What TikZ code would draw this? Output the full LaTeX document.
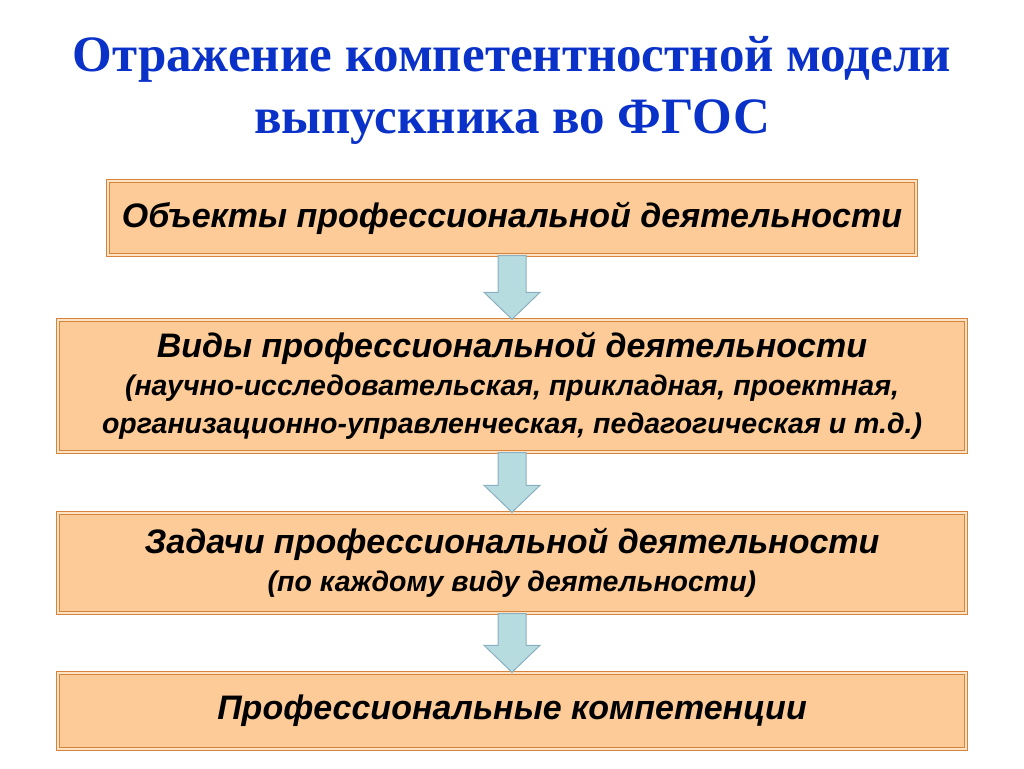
\documentclass[tikz,border=0pt]{standalone}
\usepackage{fontspec}
\setmainfont{Liberation Serif}
\setsansfont{Liberation Sans}
\usepackage{tikz}
\usetikzlibrary{calc}

\definecolor{titleblue}{HTML}{0A32C8}
\definecolor{boxfill}{HTML}{FCCB98}
\definecolor{boxline}{HTML}{D6833E}
\definecolor{boxgap}{HTML}{FDE3C4}
\definecolor{arrowfill}{HTML}{B7DCE0}
\definecolor{arrowline}{HTML}{8AAFC0}

\newcommand{\flowarrow}[2]{%
	\draw[arrow body] ($(#1.south)+(-14,0)$) -- ($(#1.south)+(14,0)$)
		-- ($(#2.north)+(14,-27)$) -- ($(#2.north)+(28,-27)$) -- (#2.north)
		-- ($(#2.north)+(-28,-27)$) -- ($(#2.north)+(-14,-27)$) -- cycle;}
\newcommand{\subline}{\fontsize{28.5}{34}\selectfont}

\begin{document}
\begin{tikzpicture}[x=1pt,y=-1pt]
	 \tikzstyle{box}=[draw=boxline,double=boxgap,line width=1.4pt,double distance=1.1pt,fill=boxfill,
		inner sep=0pt,align=center,font=\sffamily\bfseries\itshape\fontsize{34}{38}\selectfont]
	 \tikzstyle{arrow body}=[fill=arrowfill,draw=arrowline,line width=1pt,line join=miter]

	 \useasboundingbox (0,0) rectangle (1024,768);

	 \node[text=titleblue,align=center,font=\bfseries\fontsize{51}{62}\selectfont] (title) at (512,90)
		{Отражение компетентностной модели\\выпускника во ФГОС};

	 \node[box,minimum width=808,minimum height=74] (objects) at (512,218)
		{Объекты профессиональной деятельности};
	 \node[box,minimum width=908,minimum height=132] (kinds) at (512,386)
		{Виды профессиональной деятельности\\
		{\subline (научно-исследовательская, прикладная, проектная,}\\
		{\subline организационно-управленческая, педагогическая и т.д.)}};
	 \node[box,minimum width=908,minimum height=100] (tasks) at (512,563)
		{Задачи профессиональной деятельности\\
		{\subline (по каждому виду деятельности)}};
	 \node[box,minimum width=908,minimum height=76] (skills) at (512,711)
		{Профессиональные компетенции};

	 \flowarrow{objects}{kinds}
	 \flowarrow{kinds}{tasks}
	 \flowarrow{tasks}{skills}
\end{tikzpicture}
\end{document}
